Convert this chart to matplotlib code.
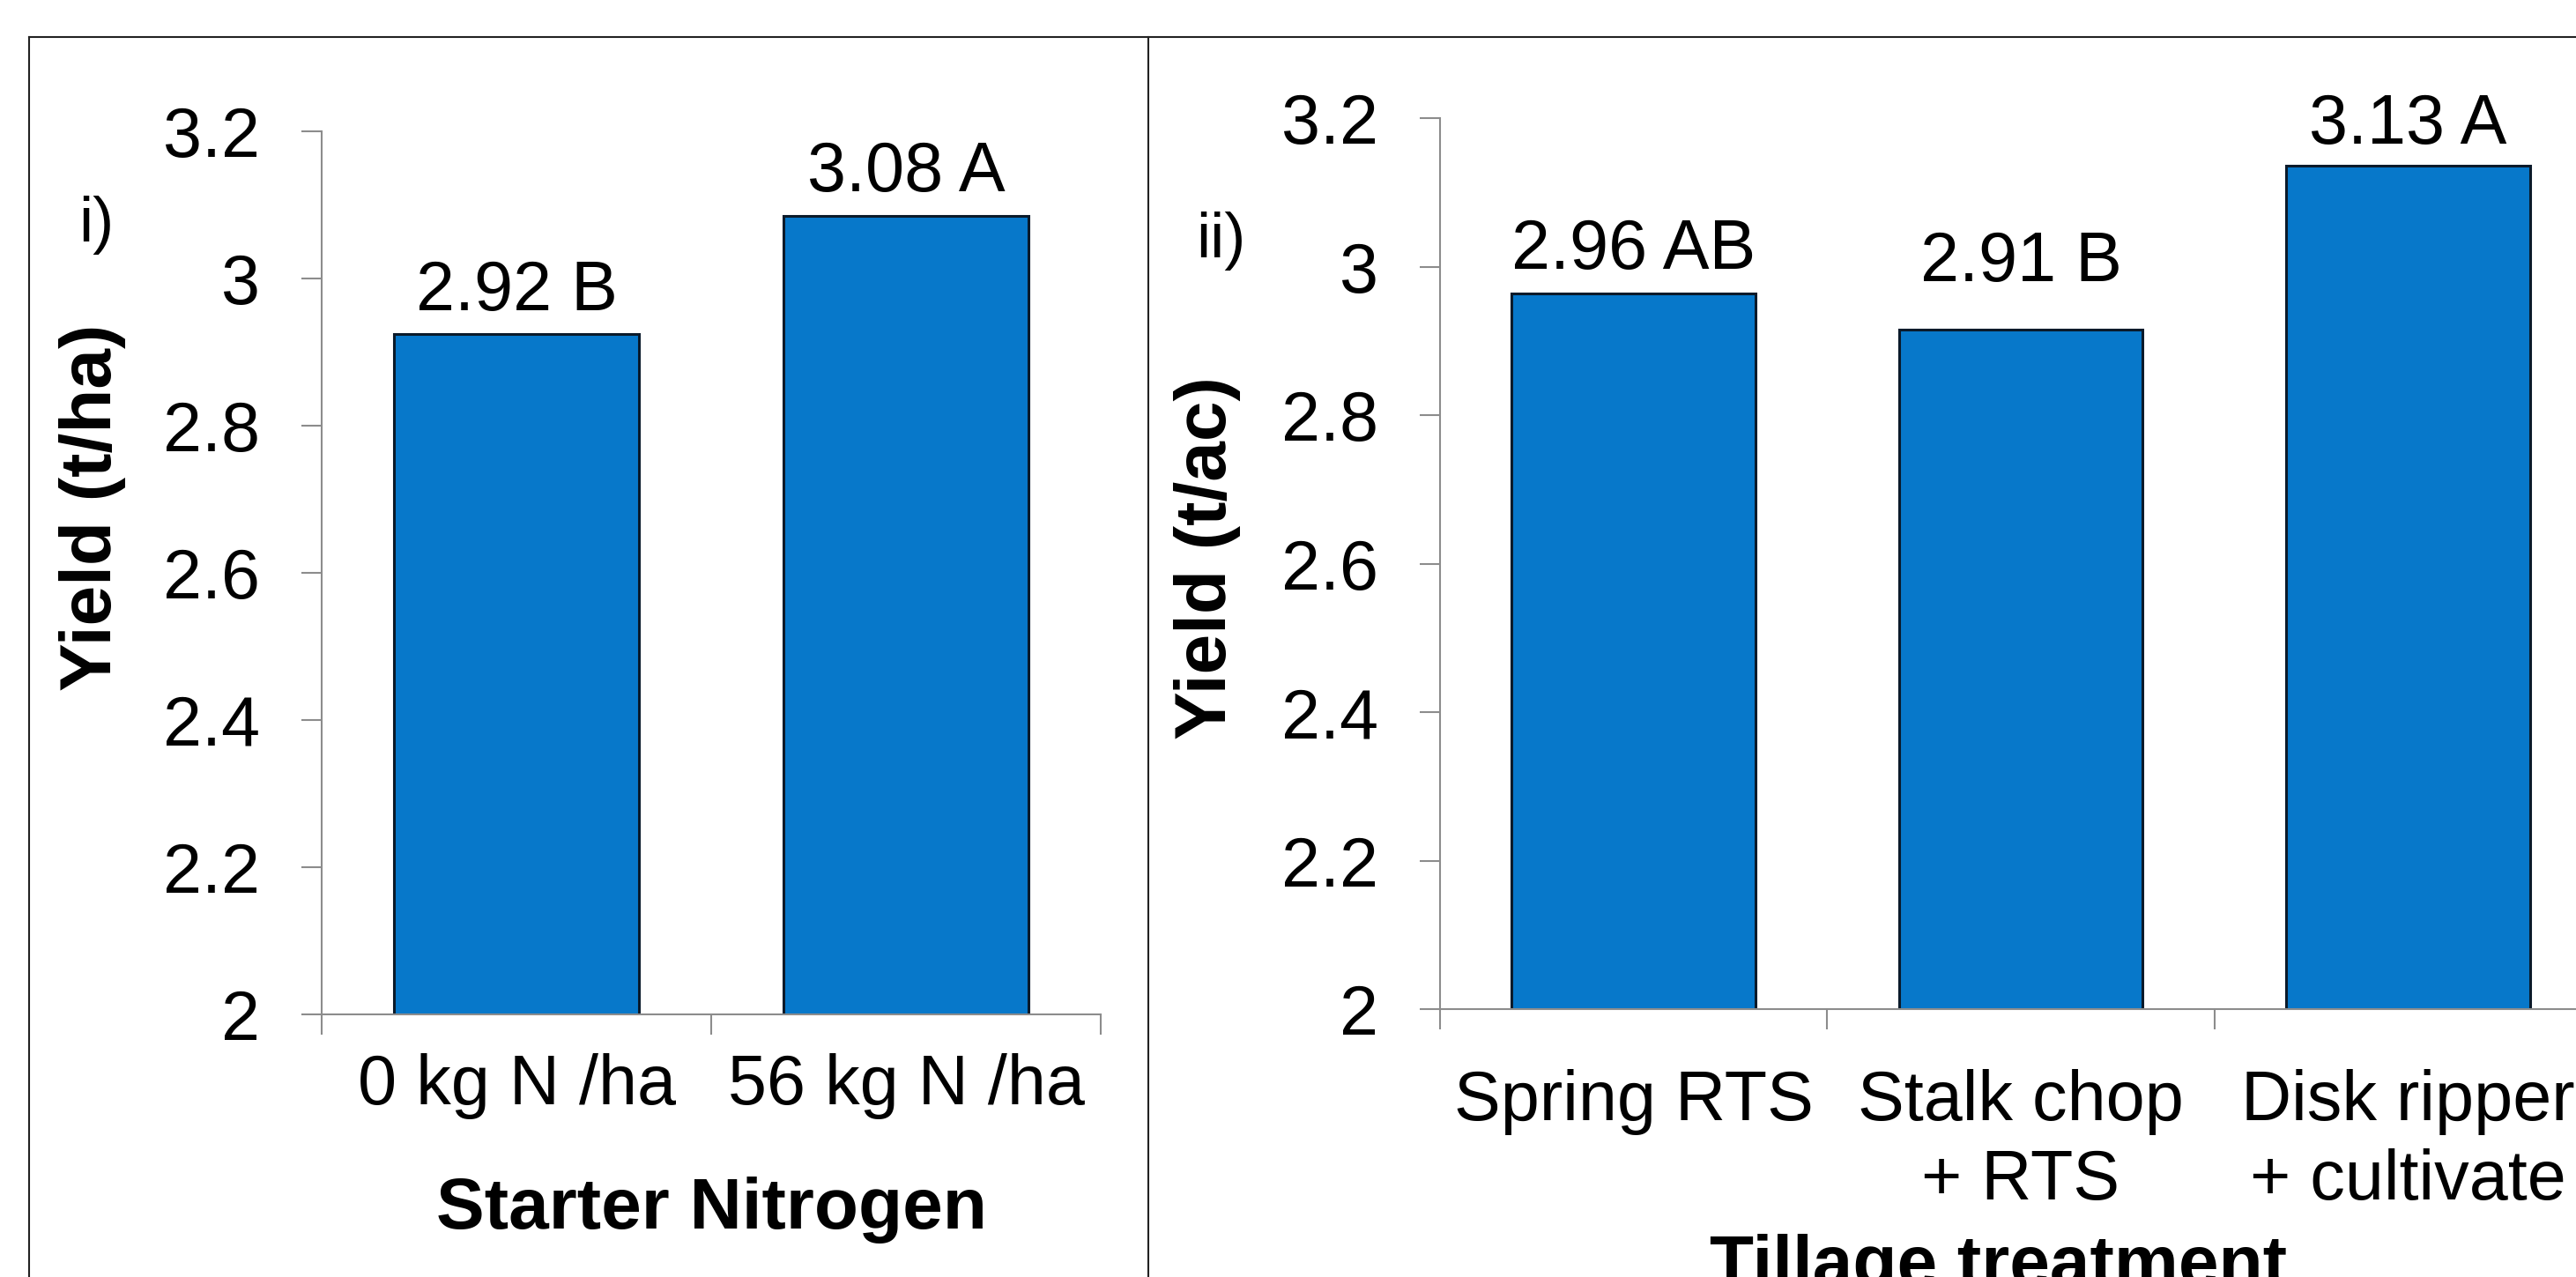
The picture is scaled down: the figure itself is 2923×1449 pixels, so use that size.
import matplotlib
matplotlib.use('Agg')
import matplotlib.pyplot as plt
from matplotlib.lines import Line2D

# data
nitrogen_rates = ['0 kg N /ha', '56 kg N /ha']
nitrogen_yield = [2.924, 3.085]
nitrogen_labels = ['2.92 B', '3.08 A']

tillage_types = ['Spring RTS', 'Stalk chop\n+ RTS', 'Disk ripper\n+ cultivate']
tillage_yield = [2.964, 2.915, 3.136]
tillage_labels = ['2.96 AB', '2.91 B', '3.13 A']

y_ticks = [2, 2.2, 2.4, 2.6, 2.8, 3, 3.2]

plt.rcParams['font.family'] = ['Liberation Sans', 'DejaVu Sans']

bar_color = '#0778CA'
axis_grey = '#8C8C8C'
tick_fs = 57
label_fs = 59

fig = plt.figure(figsize=(29.23, 14.49), dpi=100)


def draw_panel(ax, cats, vals, labels, offsets, xlabel, ylabel, xpad, ylab_xy, xlab_xy):
    x = list(range(len(cats)))
    ax.bar(x, vals, width=0.63, color=bar_color, edgecolor='#0A1A2A', linewidth=2.2)
    ax.set_ylim(2, 3.2)
    ax.set_xlim(-0.5, len(cats) - 0.5)
    ax.set_yticks(y_ticks)
    ax.set_yticklabels(['{:g}'.format(t) for t in y_ticks])
    # category boundaries as major ticks, names on minor ticks
    ax.set_xticks([i - 0.5 for i in range(len(cats) + 1)])
    ax.set_xticklabels([''] * (len(cats) + 1))
    ax.set_xticks(x, minor=True)
    ax.set_xticklabels(cats, minor=True, fontsize=tick_fs, linespacing=1.25)
    ax.tick_params(axis='x', which='minor', length=0, pad=xpad)
    ax.tick_params(axis='x', which='major', length=16.5, width=1.5, color=axis_grey, direction='out')
    ax.tick_params(axis='y', length=16.5, width=1.5, color=axis_grey, direction='out',
                   labelsize=tick_fs, pad=34)
    for s in ['top', 'right']:
        ax.spines[s].set_visible(False)
    for s in ['left', 'bottom']:
        ax.spines[s].set_color(axis_grey)
        ax.spines[s].set_linewidth(1.5)
    for xi, v, l, off in zip(x, vals, labels, offsets):
        ax.annotate(l, (xi, v), xytext=(0, off), textcoords='offset points',
                    ha='center', va='baseline', fontsize=tick_fs)
    ax.set_ylabel(ylabel, fontsize=label_fs, fontweight='bold', va='center')
    ax.yaxis.set_label_coords(*ylab_xy)
    ax.set_xlabel(xlabel, fontsize=label_fs, fontweight='bold', va='top')
    ax.xaxis.set_label_coords(*xlab_xy)


ax1 = fig.add_axes([0.1249, 0.2057, 0.3024, 0.6915])
draw_panel(ax1, nitrogen_rates, nitrogen_yield, nitrogen_labels, [20, 20],
           'Starter Nitrogen', 'Yield (t/ha)', 32, (-0.294, 0.574), (0.5, -0.184))

ax2 = fig.add_axes([0.5590, 0.2098, 0.4509, 0.6977])
draw_panel(ax2, tillage_types, tillage_yield, tillage_labels, [20, 40, 18],
           'Tillage treatment', 'Yield (t/ac)', 49, (-0.200, 0.506), (0.481, -0.252))

fig.text(0.0304, 0.811, 'i)', fontsize=52, ha='left', va='baseline')
fig.text(0.4643, 0.7985, 'ii)', fontsize=52, ha='left', va='baseline')

# frame lines around the two panels
frame = dict(color='#222222', linewidth=1.5, transform=fig.transFigure)
fig.add_artist(Line2D([0.0113, 1.0], [0.971, 0.971], **frame))
fig.add_artist(Line2D([0.0113, 0.0113], [0.0, 0.971], **frame))
fig.add_artist(Line2D([0.4458, 0.4458], [0.0, 0.971], **frame))

fig.savefig('out.png', dpi=100, facecolor='white')
